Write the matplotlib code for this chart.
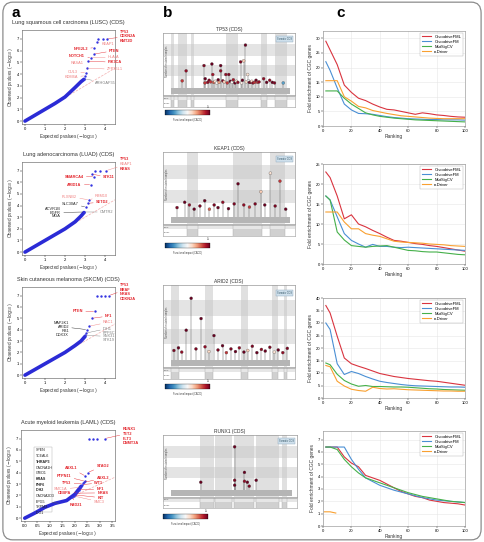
import matplotlib
matplotlib.use('Agg')
import matplotlib.pyplot as plt
from matplotlib.patches import FancyBboxPatch, Rectangle
from matplotlib.colors import Normalize
from matplotlib.colorbar import ColorbarBase

plt.rcParams['font.family'] = ['Liberation Sans', 'DejaVu Sans']
plt.rcParams['mathtext.fontset'] = 'dejavusans'

W, H = 484, 542

# ---------------- panel c : fold enrichment of CGC genes ----------------
ranking = [2, 5, 10, 15, 20, 25, 30, 35, 40, 45, 50, 55, 60, 65, 70, 75, 80, 85, 90, 95, 100]

fml_lusc = [29, 26, 21, 14, 11.5, 9.5, 8.7, 7.5, 6.5, 5.7, 5.5, 5, 4.5, 4, 4.5, 4.2, 3.8, 3.6, 3.3, 3.1, 3]
fm_lusc = [22, 19, 13, 7.5, 5.5, 4.3, 4.2, 4, 3.6, 3.2, 2.9, 2.7, 2.5, 2.4, 2.3, 2.2, 2.2, 2.1, 2.1, 2.1, 2]
mutsig_lusc = [12, 12, 12, 9.5, 7.5, 6, 4.5, 3.8, 3.3, 3.0, 2.7, 2.5, 2.3, 2.1, 2, 1.9, 1.8, 1.7, 1.6, 1.5, 1.4]
edriver_lusc = [15.5, 15.5, 15.5, 10, 8.5, 6.7, 6.2, 5.3, 4.8, 4.3, 3.9, 3.5, 3.3, 3.1, 2.9, 2.7, 2.6, 2.5, 2.5, 2.5, 2.5]

fml_luad = [23, 21.6, 17, 11.3, 12.3, 10, 9.3, 8.4, 7.6, 6.7, 5.9, 5.7, 5.4, 5.1, 4.9, 4.6, 4.4, 4.1, 3.8, 3.5, 3.2]
fm_luad = [17, 16, 11.8, 7.6, 5.9, 5, 4.2, 4.9, 4.4, 4.4, 4.2, 4.1, 4.2, 4.1, 4, 3.9, 3.8, 3.7, 3.6, 3.5, 3.4]
mutsig_luad = [17, 16, 8, 6, 4.6, 4.4, 4.2, 4.4, 4.5, 4.6, 4.2, 3.8, 3.4, 3.3, 3.1, 3, 3, 2.8, 2.6, 2.4, 2.3]
edriver_luad = [13, 13, 13, 10.5, 8.8, 8.8, 7.6, 7.2, 6.9, 6.3, 5.7, 5.5, 5.4, 5.3, 5.2, 5, 4.9, 4.8, 4.6, 4.5, 4.4]

fml_skcm = [37, 34, 24.7, 16, 13.7, 12.7, 11.8, 10.8, 9.8, 9.2, 8.6, 8.2, 7.8, 7.5, 7.2, 6.9, 6.7, 6.3, 5.9, 5.5, 5.1]
fm_skcm = [30, 27.4, 13.7, 9.4, 10.6, 9.8, 8.6, 7.6, 6.7, 6.2, 5.8, 5.4, 5.1, 4.9, 4.8, 4.7, 4.6, 4.5, 4.4, 4.4, 4.3]
mutsig_skcm = [14, 13.3, 9.5, 7, 5.6, 4.7, 5, 4.6, 4.6, 4.5, 4.4, 4.4, 4.3, 4.1, 3.9, 3.7, 3.6, 3.4, 3.3, 3.2, 3.1]
edriver_skcm = [13, 12.5, 6.7, 4.8, 3.5, 3, 2.7, 4.3, 3.8, 3.6, 3.7, 3.5, 3.3, 3.2, 3.1, 3, 2.9, 2.8, 2.8, 2.7, 2.7]

fml_laml = [6.4, 6.4, 6.4, 5.6, 5.1, 4.8, 4.1, 3.9, 3.7, 3.4, 3.1, 2.8, 2.6, 2.4, 2.3, 2.1, 2.0, 1.9, 1.85, 1.8, 1.7]
fm_laml = [6.4, 6.4, 6.4, 6.4, 5.4, 4.6, 3.9, 3.6, 3.3, 3.1, 2.9, 2.75, 2.6, 2.45, 2.3, 2.2, 2.1, 2.05, 2.0, 1.95, 1.9]
mutsig_laml = [6.4, 6.4, 6.2, 5.4, 4.8, 4.3, 3.9, 3.7, 3.5, 3.3, 3.1, 2.9, 2.7, 2.55, 2.4, 2.3, 2.2, 2.1, 2.0, 1.95, 1.9]
ranking_edriver_laml = [1, 5, 9]
edriver_laml = [1.15, 1.15, 1.05]

metodos = ['OncodriveFML', 'OncodriveFM', 'MutSigCV', 'e-Driver']
colores_metodo = ['#d9343f', '#4a8fd4', '#45b04a', '#f9a030']

# ---------------- panel a : QQ plots ----------------
lusc_linea_x = [0, 0.5, 1.0, 1.5, 2.0, 2.5, 2.8, 2.95]
lusc_linea_y = [0, 0.5, 1.0, 1.5, 2.05, 2.85, 3.35, 3.55]
lusc_top_x = [2.97, 3.0, 3.05, 3.1, 3.15, 3.3, 3.45, 3.45, 3.6, 3.65, 3.9, 4.1]
lusc_top_y = [3.6, 3.85, 4.1, 4.5, 5.1, 5.4, 5.7, 6.25, 6.7, 7.0, 7.0, 7.0]
lusc_etiquetas = [
    ('TP53', 'b', 4.75, 7.6, None, 'left'), ('CDKN2A', 'b', 4.75, 7.2, 11, 'left'),
    ('KMT2D', 'b', 4.75, 6.8, None, 'left'), ('KEAP1', 'l', 3.85, 6.6, 8, 'left'),
    ('NFE2L2', 'b', 3.15, 6.1, 7, 'right'), ('PTEN', 'b', 4.2, 6.0, 6, 'left'),
    ('NOTCH1', 'b', 3.0, 5.5, 5, 'right'), ('HLA-A', 'l', 4.15, 5.45, 5, 'left'),
    ('PIK3CA', 'b', 4.15, 5.0, 4, 'left'), ('RASA1', 'l', 2.95, 4.9, 3, 'right'),
    ('ZFP36L1', 'l', 4.1, 4.4, 3, 'left'), ('CUL3', 'l', 2.65, 4.15, 2, 'right'),
    ('KDM6A', 'l', 2.65, 3.75, 1, 'right'), ('ARHGAP35', 'g', 3.5, 3.25, 0, 'left'),
]

luad_linea_x = [0, 0.5, 1.0, 1.5, 2.0, 2.5, 2.8, 2.95]
luad_linea_y = [0, 0.5, 1.0, 1.5, 2.0, 2.6, 3.1, 3.4]
luad_top_x = [2.95, 3.05, 3.15, 3.2, 3.3, 3.45, 3.35, 3.5, 3.75, 4.05]
luad_top_y = [3.45, 3.9, 4.2, 4.5, 5.8, 6.5, 6.7, 7.0, 7.0, 7.0]
luad_etiquetas = [
    ('TP53', 'b', 4.75, 8.0, None, 'left'), ('KEAP1', 'l', 4.75, 7.56, 9, 'left'),
    ('KRAS', 'b', 4.75, 7.14, None, 'left'), ('SMARCA4', 'b', 2.93, 6.5, 5, 'right'),
    ('STK11', 'b', 3.9, 6.45, 6, 'left'), ('ARID1A', 'b', 2.83, 5.8, 4, 'right'),
    ('PLXNB2', 'l', 2.6, 4.75, 3, 'right'), ('RBM10', 'l', 3.5, 4.8, 3, 'left'),
    ('SETD2', 'b', 3.55, 4.3, 2, 'left'), ('SLC30A7', 'k', 2.68, 4.1, 1, 'right'),
    ('ACVR1B', 'k', 1.8, 3.7, None, 'right'), ('EGFR', 'k', 1.8, 3.4, 0, 'right'),
    ('MGA', 'k', 1.8, 3.1, None, 'right'), ('CMTR2', 'g', 3.75, 3.45, 0, 'left'),
]

skcm_linea_x = [0, 0.5, 1.0, 1.5, 2.0, 2.5, 2.8, 3.0]
skcm_linea_y = [0, 0.5, 1.0, 1.5, 2.0, 2.6, 3.0, 3.4]
skcm_top_x = [3.0, 3.05, 3.1, 3.2, 3.35, 3.5, 3.6, 3.8, 4.0, 4.2]
skcm_top_y = [3.5, 3.7, 4.0, 4.3, 5.0, 5.6, 7.0, 7.0, 7.0, 7.0]
skcm_etiquetas = [
    ('TP53', 'b', 4.75, 7.9, None, 'left'), ('BRAF', 'b', 4.75, 7.5, 9, 'left'),
    ('NRAS', 'b', 4.75, 7.1, None, 'left'), ('CDKN2A', 'b', 4.75, 6.7, None, 'left'),
    ('PTEN', 'b', 2.9, 5.6, 5, 'right'), ('NF1', 'b', 4.0, 5.2, 4, 'left'),
    ('RAC1', 'l', 3.9, 4.65, 3, 'left'), ('MAP2K1', 'k', 2.2, 4.6, None, 'right'),
    ('ARID2', 'k', 2.2, 4.25, 2, 'right'), ('RB1', 'k', 2.2, 3.9, None, 'right'),
    ('DDX3X', 'k', 2.2, 3.55, None, 'right'), ('IDH1', 'g', 3.9, 4.1, 1, 'left'),
    ('PPP6C', 'g', 3.9, 3.75, None, 'left'), ('SNX31', 'g', 3.9, 3.4, 0, 'left'),
    ('STK19', 'g', 3.9, 3.05, None, 'left'),
]

laml_linea_x = [0, 0.4, 0.8, 1.2, 1.67, 2.0, 2.25]
laml_linea_y = [0, 0.45, 0.95, 1.3, 1.55, 2.1, 2.8]
laml_top_x = [1.9, 1.95, 2.0, 2.05, 2.1, 2.15, 2.2, 2.28, 2.32, 2.36, 2.4, 2.42, 2.51, 2.58, 2.74, 2.9, 3.2]
laml_top_y = [1.85, 1.95, 2.05, 2.2, 2.3, 2.5, 2.7, 2.95, 3.05, 3.15, 3.25, 3.7, 4.0, 7.0, 7.0, 7.0, 7.0]
laml_etiquetas = [
    ('RUNX1', 'b', 3.9, 7.86, None, 'left'), ('TET2', 'b', 3.9, 7.44, 16, 'left'),
    ('FLT3', 'b', 3.9, 7.0, None, 'left'), ('DNMT3A', 'b', 3.9, 6.6, None, 'left'),
    ('STAG2', 'b', 2.86, 4.6, 12, 'left'), ('ASXL1', 'b', 2.1, 4.4, 11, 'right'),
    ('PTPN11', 'b', 1.86, 3.7, 10, 'right'), ('ASXL2', 'b', 2.86, 3.5, 9, 'left'),
    ('TP53', 'b', 1.86, 3.08, 8, 'right'), ('WT1', 'b', 2.78, 3.08, 7, 'left'),
    ('SMC1A', 'l', 1.7, 2.56, 6, 'right'), ('NF1', 'b', 2.86, 2.56, 5, 'left'),
    ('CEBPA', 'b', 1.86, 2.22, 4, 'right'), ('NRAS', 'b', 2.9, 2.22, 3, 'left'),
    ('KIT', 'b', 2.9, 1.8, 2, 'left'), ('SMC3', 'l', 2.75, 1.45, 1, 'left'),
    ('RAD21', 'b', 2.3, 1.2, 0, 'right'),
]
laml_lista = ['SPEN', 'TCEAL6', 'THRAP3', 'CACNA1H', 'GRID1', 'KRAS', 'PHF6', 'IDH2',
              'CACNA2D3', 'EPG5', 'TRPM3', 'IDO1']
laml_lista_negrita = ['THRAP3', 'KRAS', 'PHF6', 'IDH2']

# ---------------- panel b : needle plots ----------------
tp53_pos = [36, 49, 108, 111, 112, 120, 125, 130, 134, 137, 140, 145, 150, 155, 158, 163, 163, 170, 175, 180,
            185, 190, 195, 200, 205, 210, 215, 220, 229, 232, 235, 239, 245, 248, 252, 255, 258, 262, 266, 270,
            275, 280, 285, 290, 305, 315, 325, 334, 341, 370]
tp53_alt = [1.1, 3.0, 4.0, 0.7, 1.5, 0.8, 1.2, 0.9, 4.3, 2.3, 0.8, 1.0, 0.7, 1.3, 0.8, 4.0, 3.0, 1.1, 0.9, 2.3,
            0.7, 2.3, 1.0, 0.8, 1.3, 0.7, 1.0, 0.8, 4.7, 0.7, 1.2, 4.9, 7.9, 0.9, 2.3, 1.1, 0.8, 0.8, 1.0, 0.7,
            0.8, 1.2, 0.8, 0.9, 1.5, 0.8, 1.2, 0.8, 0.7, 0.7]
tp53_cadd = [30, 33, 34, 30, 35, 33, 34, 30, 35, 32, 28, 20, 18, 35, 25, 35, 33, 34, 22, 33,
             30, 34, 35, 18, 32, 35, 20, 33, 34, 19, 35, 22, 35, 21, 20, 17, 35, 34, 20, 33,
             30, 35, 30, 33, 33, 35, 33, 35, 34, 8]
tp53_dominios = [(0, 8), (23, 52), (65, 75), (180, 219), (295, 317), (344, 383)]

keap1_pos = [30, 70, 95, 120, 150, 175, 200, 225, 245, 270, 300, 330, 350, 380, 410, 440, 470, 490, 520, 545, 570, 600]
keap1_alt = [1.5, 2.5, 2.0, 1.2, 1.8, 2.8, 1.2, 2.0, 1.5, 2.5, 1.3, 2.2, 6.0, 2.0, 1.6, 2.2, 4.5, 2.0, 8.0, 1.8, 6.5, 1.2]
keap1_cadd = [34, 35, 33, 35, 34, 35, 28, 34, 35, 33, 35, 34, 35, 33, 30, 34, 22, 35, 20, 34, 30, 35]
keap1_dominios = [(83, 140), (322, 478), (520, 598)]

arid2_pos = [40, 110, 160, 230, 306, 380, 459, 520, 580, 658, 720, 790, 850, 920, 990, 1050, 1120, 1180, 1250,
             1320, 1390, 1450, 1520, 1590, 1650, 1720, 1790]
arid2_alt = [1.5, 2.0, 1.2, 5.3, 11.3, 1.8, 7.5, 2.2, 1.3, 4.3, 1.6, 2.4, 1.1, 1.8, 1.3, 2.0, 1.2, 1.5, 2.3,
             1.1, 1.7, 1.4, 2.1, 1.2, 1.6, 1.1, 1.9]
arid2_cadd = [34, 35, 33, 35, 35, 34, 35, 33, 21, 35, 34, 35, 30, 34, 35, 33, 35, 22, 34,
              35, 33, 35, 34, 20, 35, 33, 34]
arid2_dominios = [(0, 120), (520, 640), (1080, 1180), (1560, 1640), (1740, 1790)]

runx1_pos = [110, 237, 237, 237, 274, 274, 285, 292, 318]
runx1_alt = [1.4, 8.6, 1.8, 0.8, 3.4, 1.6, 1.4, 0.6, 1.8]
runx1_cadd = [35, 35, 34, 35, 35, 33, 35, 34, 35]
runx1_dominios = [(106, 161), (164, 226), (234, 310), (318, 402), (416, 434)]

estilos = {
    'b': dict(color='#e3242b', fontweight='bold'),
    'l': dict(color='#f08080'),
    'k': dict(color='#222222'),
    'g': dict(color='#808080'),
}
cmap = plt.get_cmap('RdBu_r')
norma = Normalize(0, 35)


def caja(l, t, r, b):
    return [l / W, 1 - b / H, (r - l) / W, (b - t) / H]


def dibujar_qq(ax, titulo, lx, ly, tx, ty, etiquetas, xlim, xticks, ylim):
    ax.plot([0, 5], [0, 5], ls='--', color='#f3b0b0', lw=0.5, zorder=1)
    ax.plot(lx, ly, color='#2b2bd6', lw=2.6, solid_capstyle='round', zorder=2)
    ax.scatter(tx, ty, s=3, color='#3434e0', lw=0, zorder=3)
    for gen, est, x, y, idx, ha in etiquetas:
        kw = estilos[est]
        if idx is None:
            ax.text(x, y, gen, ha=ha, va='center', fontsize=2.8, clip_on=False, **kw)
        else:
            ax.annotate(gen, xy=(tx[idx], ty[idx]), xytext=(x, y), ha=ha, va='center', fontsize=2.8,
                        arrowprops=dict(arrowstyle='-', color=kw['color'], lw=0.3, shrinkA=0, shrinkB=1),
                        annotation_clip=False, **kw)
    ax.set_xlim(*xlim)
    ax.set_ylim(*ylim)
    ax.set_xticks(xticks)
    ax.set_yticks(range(0, 8))
    ax.tick_params(labelsize=3, length=1.2, width=0.3, pad=1)
    for s in ax.spines.values():
        s.set_linewidth(0.4)
        s.set_color('#555555')
    ax.set_title(titulo, fontsize=4, pad=4, color='#333333')
    ax.set_xlabel('Expected pvalues $(-\\log_{10})$', fontsize=3.3, labelpad=1, color='#333333')
    ax.set_ylabel('Observed pvalues $(-\\log_{10})$', fontsize=3.3, labelpad=1, color='#333333')


def dibujar_agujas(caja_main, caja_pista, caja_cbar, titulo, largo, dominios, pos, alt, cadd, ytope):
    xlim = (-largo * 0.07, largo * 1.04)
    ax = fig.add_axes(caja_main)
    ax.set_xlim(*xlim)
    ax.set_ylim(-1.6, ytope)
    ax.axhspan(0.2 * ytope, 0.4 * ytope, color='#e4e4e4', lw=0, zorder=0)
    ax.axhspan(0.58 * ytope, 0.8 * ytope, color='#e4e4e4', lw=0, zorder=0)
    for d0, d1 in dominios:
        ax.axvspan(d0, d1, color='#c8c8c8', alpha=0.55, lw=0, zorder=0)
    ax.add_patch(Rectangle((0, -1.35), largo, 1.15, color='#b5b5b5', lw=0, zorder=1))
    ax.vlines(pos, -0.2, alt, color='#666666', lw=0.35, zorder=2)
    ax.scatter(pos, alt, c=cadd, cmap=cmap, norm=norma, s=4.5, edgecolors='#444444', linewidths=0.2, zorder=3)
    ax.text(0.015, 0.55, 'Number of mutated samples', transform=ax.transAxes, rotation=90,
            fontsize=1.8, va='center', ha='left', color='#555555')
    ax.text(0.975, 0.93, 'Somatic CDS', transform=ax.transAxes, fontsize=1.8, ha='right', va='top',
            color='#335566', bbox=dict(fc='#cfe0ec', ec='#8aa5b8', lw=0.3, pad=0.8))
    ax.set_xticks([])
    ax.set_yticks([])
    for s in ax.spines.values():
        s.set_linewidth(0.5)
        s.set_color('#999999')
    ax.set_title(titulo, fontsize=3.5, pad=1.5, color='#333333')

    pista = fig.add_axes(caja_pista)
    pista.set_xlim(*xlim)
    pista.set_ylim(0, 1)
    pista.axhspan(0.6, 1, color='#e6e6e6', lw=0)
    for d0, d1 in dominios:
        pista.axvspan(d0, d1, ymax=0.6, color='#d0d0d0', lw=0)
        pista.axvline(d0, color='#aaaaaa', lw=0.3)
        pista.axvline(d1, color='#aaaaaa', lw=0.3)
    pista.text(0.005, 0.8, 'Pfam', transform=pista.transAxes, fontsize=1.6, va='center', color='#555555')
    pista.text(0.005, 0.3, 'Exons', transform=pista.transAxes, fontsize=1.6, va='center', color='#555555')
    pista.set_xticks([])
    pista.set_yticks([])
    for s in pista.spines.values():
        s.set_linewidth(0.4)
        s.set_color('#999999')

    cax = fig.add_axes(caja_cbar)
    cb = ColorbarBase(cax, cmap=cmap, norm=norma, orientation='horizontal')
    cb.set_ticks([])
    cb.outline.set_linewidth(0.2)
    cax.text(0.5, -0.6, 'Functional impact (CADD)', transform=cax.transAxes, fontsize=1.8,
             ha='center', va='top', color='#444444')
    cax.text(1.0, 1.3, '35', transform=cax.transAxes, fontsize=1.8, ha='right', va='bottom', color='#444444')


def dibujar_enriq(ax, series, ylim, paso):
    for (etiqueta, color), (x, y) in zip(zip(metodos, colores_metodo), series):
        ax.plot(x, y, color=color, lw=0.8, label=etiqueta)
    ax.set_xlim(0, 100)
    ax.set_ylim(*ylim)
    ax.set_xticks(range(0, 101, 20))
    ax.set_yticks([v * paso for v in range(int(ylim[1] / paso) + 1)])
    ax.grid(True, color='#e6e6e6', lw=0.4)
    ax.tick_params(labelsize=3, length=1.2, width=0.3, pad=1)
    for s in ax.spines.values():
        s.set_linewidth(0.4)
        s.set_color('#888888')
    ax.set_xlabel('Ranking', fontsize=3.5, labelpad=1, color='#333333')
    ax.set_ylabel('Fold enrichment of CGC genes', fontsize=3.5, labelpad=2, color='#333333')
    leg = ax.legend(loc='upper right', fontsize=3, handlelength=2.2, borderpad=0.4,
                    labelspacing=0.25, frameon=True, fancybox=False)
    leg.get_frame().set_linewidth(0.3)
    leg.get_frame().set_edgecolor('#999999')


fig = plt.figure(figsize=(W / 100, H / 100), dpi=100)
fig.patches.append(FancyBboxPatch((0.006, 0.004), 0.988, 0.992, boxstyle='round,pad=0,rounding_size=0.02',
                                  transform=fig.transFigure, fc='none', ec='#8c8c8c', lw=0.9))

for letra, x in [('a', 12), ('b', 163), ('c', 336)]:
    fig.text(x / W, 1 - 17 / H, letra, fontsize=11, fontweight='bold')

# panel a
qq = [
    ('Lung squamous cell carcinoma (LUSC) (CDS)', lusc_linea_x, lusc_linea_y, lusc_top_x, lusc_top_y,
     lusc_etiquetas, (22, 30, 115, 124), (-0.15, 4.5), range(0, 5)),
    ('Lung adenocarcinoma (LUAD) (CDS)', luad_linea_x, luad_linea_y, luad_top_x, luad_top_y,
     luad_etiquetas, (22, 162, 115, 255), (-0.15, 4.5), range(0, 5)),
    ('Skin cutaneous melanoma (SKCM) (CDS)', skcm_linea_x, skcm_linea_y, skcm_top_x, skcm_top_y,
     skcm_etiquetas, (22, 287, 115, 378), (-0.15, 4.5), range(0, 5)),
    ('Acute myeloid leukemia (LAML) (CDS)', laml_linea_x, laml_linea_y, laml_top_x, laml_top_y,
     laml_etiquetas, (21, 430, 115, 521), (-0.15, 3.6), [0, 0.5, 1.0, 1.5, 2.0, 2.5, 3.0, 3.5]),
]
for titulo, lx, ly, tx, ty, et, pos, xlim, xt in qq:
    ax = fig.add_axes(caja(*pos))
    dibujar_qq(ax, titulo, lx, ly, tx, ty, et, xlim, xt, (-0.25, 7.75))
    if titulo.startswith('Acute'):
        ax.set_xticklabels(['0.0', '0.5', '1.0', '1.5', '2.0', '2.5', '3.0', '3.5'])
        for i, gen in enumerate(laml_lista):
            kw = dict(estilos['k'])
            if gen in laml_lista_negrita:
                kw['fontweight'] = 'bold'
            ax.text(0.45, 5.95 - i * 0.5, gen, fontsize=2.6, va='center', ha='left', **kw)
        ax.add_patch(Rectangle((0.38, 0.5), 0.72, 5.75, fc='white', ec='#aaaaaa', lw=0.3, zorder=1.5))
        ax.plot([1.1, 1.35], [1.4, 1.3], color='#555555', lw=0.3)

# panel b
dibujar_agujas(caja(163, 33, 295, 95), caja(163, 96, 295, 107), caja(165, 110, 210, 115),
               'TP53 (CDS)', 393, tp53_dominios, tp53_pos, tp53_alt, tp53_cadd, 10.2)
dibujar_agujas(caja(163, 152, 295, 224), caja(163, 225, 295, 236), caja(165, 243, 210, 248),
               'KEAP1 (CDS)', 624, keap1_dominios, keap1_pos, keap1_alt, keap1_cadd, 12.0)
dibujar_agujas(caja(163, 285, 295, 367), caja(163, 368, 295, 379), caja(165, 384, 210, 389),
               'ARID2 (CDS)', 1835, arid2_dominios, arid2_pos, arid2_alt, arid2_cadd, 13.8)
dibujar_agujas(caja(163, 435, 297, 497), caja(163, 498, 297, 508), caja(163, 514, 208, 519),
               'RUNX1 (CDS)', 453, runx1_dominios, runx1_pos, runx1_alt, runx1_cadd, 11.0)

# panel c
enriq = [
    ((323, 31, 465, 126), [(ranking, fml_lusc), (ranking, fm_lusc), (ranking, mutsig_lusc), (ranking, edriver_lusc)],
     (0, 32.5), 5),
    ((323, 164, 465, 264), [(ranking, fml_luad), (ranking, fm_luad), (ranking, mutsig_luad), (ranking, edriver_luad)],
     (0, 25), 5),
    ((323, 298, 465, 398), [(ranking, fml_skcm), (ranking, fm_skcm), (ranking, mutsig_skcm), (ranking, edriver_skcm)],
     (0, 40), 5),
    ((323, 431, 465, 526), [(ranking, fml_laml), (ranking, fm_laml), (ranking, mutsig_laml),
                            (ranking_edriver_laml, edriver_laml)], (0, 7.7), 1),
]
for pos, series, ylim, paso in enriq:
    ax = fig.add_axes(caja(*pos))
    dibujar_enriq(ax, series, ylim, paso)

fig.savefig('out.png', dpi=100)
